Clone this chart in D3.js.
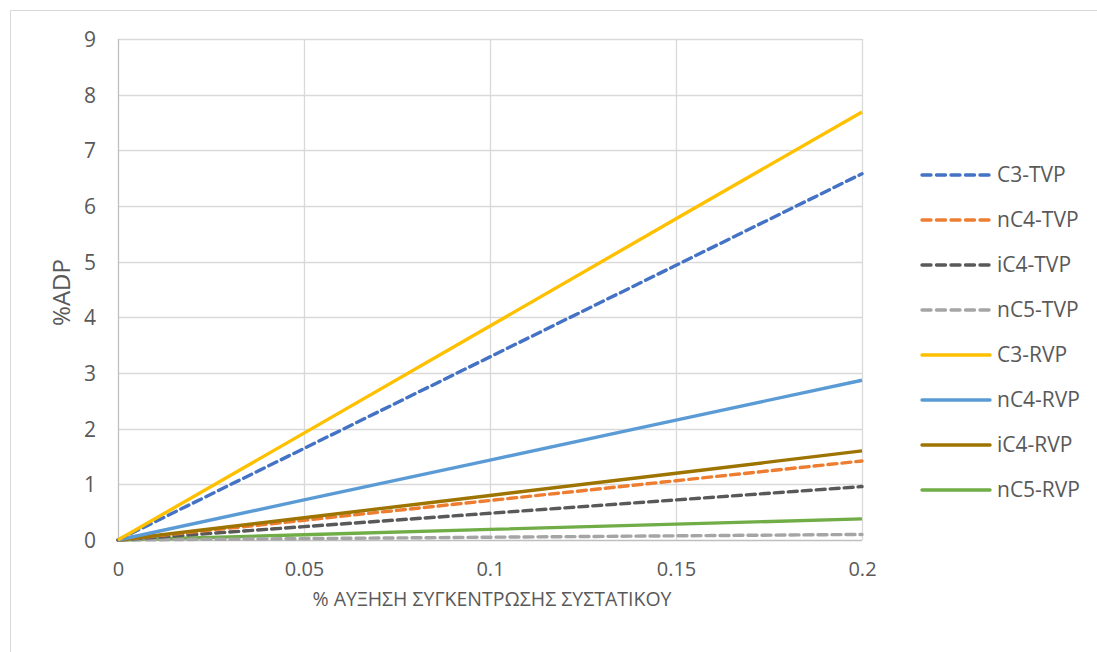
<!DOCTYPE html>
<html><head><meta charset="utf-8">
<script src="https://cdn.jsdelivr.net/npm/d3@7"></script>
<style>body{margin:0;background:#fff}svg{display:block}text{font-family:"Open Sans",Calibri,sans-serif;fill:#595959}</style>
</head><body>
<svg id="c" width="1097" height="652"></svg>
<script>
const xValues = [0, 0.05, 0.1, 0.15, 0.2];
const seriesNames = ["C3-TVP","nC4-TVP","iC4-TVP","nC5-TVP","C3-RVP","nC4-RVP","iC4-RVP","nC5-RVP"];
const c3TVP  = [0, 1.645, 3.29, 4.935, 6.58];
const nc4TVP = [0, 0.355, 0.71, 1.065, 1.42];
const ic4TVP = [0, 0.24, 0.48, 0.72, 0.96];
const nc5TVP = [0, 0.025, 0.05, 0.075, 0.10];
const c3RVP  = [0, 1.92, 3.845, 5.77, 7.69];
const nc4RVP = [0, 0.72, 1.435, 2.155, 2.87];
const ic4RVP = [0, 0.40, 0.80, 1.20, 1.60];
const nc5RVP = [0, 0.095, 0.19, 0.285, 0.38];
const xTicks = [0, 0.05, 0.1, 0.15, 0.2];
const xTickLabels = ["0","0.05","0.1","0.15","0.2"];
const yTicks = [0,1,2,3,4,5,6,7,8,9];
const xTitle = "% ΑΥΞΗΣΗ ΣΥΓΚΕΝΤΡΩΣΗΣ ΣΥΣΤΑΤΙΚΟΥ";
const yTitle = "%ADP";

const allValues = [c3TVP,nc4TVP,ic4TVP,nc5TVP,c3RVP,nc4RVP,ic4RVP,nc5RVP];
const colors = ["#4472C4","#ED7D31","#595959","#A5A5A5","#FFC000","#5B9BD5","#9E7400","#70AD47"];
const dashed = [true,true,true,true,false,false,false,false];

const svg = d3.select("#c");
svg.append("rect").attr("x",10.5).attr("y",10.5).attr("width",1100).attr("height",700)
  .attr("fill","#fff").attr("stroke","#d9d9d9").attr("stroke-width",1);

const L=118, R=862, T=39, B=540;
const x = d3.scaleLinear().domain([0,0.2]).range([L,R]);
const y = d3.scaleLinear().domain([0,9]).range([B,T]);

// gridlines
const g = svg.append("g");
g.selectAll(".hg").data(yTicks).join("line")
  .attr("x1",L).attr("x2",R).attr("y1",d=>Math.round(y(d))+0.5).attr("y2",d=>Math.round(y(d))+0.5)
  .attr("stroke",d=>d===0?"#bfbfbf":"#d9d9d9").attr("stroke-width",1.3);
g.selectAll(".vg").data(xTicks).join("line")
  .attr("y1",T).attr("y2",B).attr("x1",d=>Math.round(x(d))+0.5).attr("x2",d=>Math.round(x(d))+0.5)
  .attr("stroke",d=>d===0?"#bfbfbf":"#d9d9d9").attr("stroke-width",1.3);

// axes labels
const yAxis = d3.axisLeft(y).tickValues(yTicks).tickSize(0).tickPadding(0).tickFormat(d3.format("d"));
const ya = svg.append("g").attr("transform",`translate(${L-22},0)`).call(yAxis);
ya.select(".domain").remove();
ya.selectAll("text").style("font-size","21px").attr("fill","#595959").attr("dy","0.35em");

const xAxis = d3.axisBottom(x).tickValues(xTicks).tickSize(0).tickPadding(0).tickFormat((d,i)=>xTickLabels[i]);
const xa = svg.append("g").attr("transform",`translate(0,${B+22})`).call(xAxis);
xa.select(".domain").remove();
xa.selectAll("text").style("font-size","20px").attr("fill","#595959").attr("dy","0.71em");

// titles
svg.append("text").attr("x",(L+R)/2+2).attr("y",606).attr("text-anchor","middle")
  .style("font-size","19.5px").text(xTitle);
svg.append("text").attr("transform",`translate(70,${(T+B)/2+3}) rotate(-90)`).attr("text-anchor","middle")
  .style("font-size","24px").text(yTitle);

// lines
const line = d3.line().x((d,i)=>x(xValues[i])).y(d=>y(d));
const order = [7,3,2,1,6,5,0,4];
order.forEach(i=>{
  svg.append("path").datum(allValues[i]).attr("d",line).attr("fill","none")
    .attr("stroke",colors[i]).attr("stroke-width",3.4)
    .attr("stroke-dasharray",dashed[i]?"9,5":null).attr("stroke-linecap",dashed[i]?"round":"butt");
});

// legend
const lg = svg.append("g");
seriesNames.forEach((n,i)=>{
  const yy = 175 + i*45;
  lg.append("line").attr("x1",922).attr("x2",990).attr("y1",yy).attr("y2",yy)
    .attr("stroke",colors[i]).attr("stroke-width",3.4)
    .attr("stroke-dasharray",dashed[i]?"9,5.5":null).attr("stroke-linecap","round");
  lg.append("text").attr("x",997).attr("y",yy).attr("dy","0.35em").style("font-size","21px").text(n);
});
</script>
</body></html>
